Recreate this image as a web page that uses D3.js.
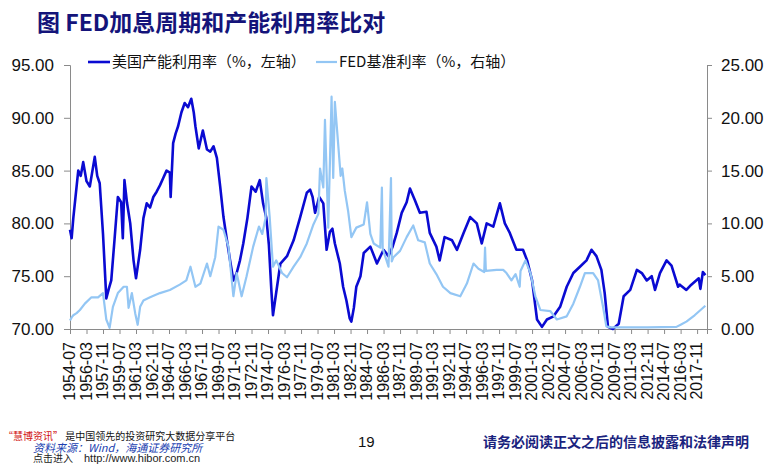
<!DOCTYPE html>
<html><head><meta charset="utf-8">
<script src="https://cdn.jsdelivr.net/npm/d3@7/dist/d3.min.js"></script>
<style>
body{margin:0;background:#fff;}
svg{display:block;}
</style></head>
<body>
<svg id="chart" width="780" height="465"></svg>
<script>
// ---------------- DATA ----------------
const title = "图 FED加息周期和产能利用率比对";
const seriesNames = ["美国产能利用率（%，左轴）", "FED基准利率（%，右轴）"];

const capDates = ["1954-07","1954-09","1954-11","1955-05","1955-08","1955-11","1956-03","1956-07","1957-01","1957-04","1957-07","1957-11","1958-03","1958-06","1958-09","1959-01","1959-05","1959-09","1959-11","1960-01","1960-04","1960-08","1960-12","1961-03","1961-08","1961-12","1962-04","1962-08","1962-12","1963-04","1963-08","1963-12","1964-04","1964-08","1964-09","1964-12","1965-03","1965-06","1965-10","1966-02","1966-06","1966-10","1967-01","1967-03","1967-07","1967-12","1968-05","1968-09","1969-01","1969-05","1969-09","1970-01","1970-05","1970-09","1971-01","1971-05","1971-09","1972-01","1972-06","1972-11","1973-04","1973-09","1974-01","1974-05","1974-08","1974-11","1975-01","1975-05","1975-10","1976-06","1977-02","1977-10","1978-06","1978-10","1979-01","1979-04","1979-09","1980-02","1980-06","1980-10","1981-01","1981-04","1981-10","1982-02","1982-06","1982-10","1982-12","1983-03","1983-06","1983-11","1984-03","1984-11","1985-03","1985-07","1986-03","1986-09","1987-02","1987-07","1988-01","1988-07","1988-11","1989-05","1989-11","1990-07","1990-11","1991-07","1991-11","1992-05","1993-02","1993-08","1994-04","1994-12","1995-08","1996-02","1996-08","1997-04","1997-08","1997-12","1998-06","1998-12","1999-08","2000-04","2000-09","2001-03","2001-09","2002-03","2002-09","2003-05","2004-01","2004-09","2005-05","2006-01","2006-09","2007-03","2007-09","2008-03","2008-07","2008-11","2009-05","2009-12","2010-06","2011-02","2011-10","2012-04","2012-10","2013-04","2013-08","2014-02","2014-10","2015-04","2015-12","2016-02","2016-10","2017-04","2018-01","2018-03","2018-06","2018-09"];
const capValues = [79.4,78.6,80.5,85.0,84.5,85.8,84.0,83.5,86.3,84.5,83.8,79.0,72.9,73.8,74.6,78.5,82.5,82.0,78.6,84.1,82.0,80.0,76.5,74.8,77.5,80.5,81.9,81.5,82.5,83.0,83.6,84.3,85.0,84.8,82.5,87.6,88.5,89.2,90.5,91.4,91.0,91.8,90.5,89.2,87.1,88.8,87.0,86.8,87.3,86.2,83.5,80.6,78.5,76.5,74.6,75.3,76.5,78.1,80.5,83.5,83.0,84.1,81.9,80.5,78.0,73.7,71.3,73.5,76.2,76.9,78.4,80.6,82.9,83.2,82.5,81.0,82.5,81.9,77.5,79.2,79.5,78.1,76.2,74.0,72.7,71.0,70.7,72.0,74.0,75.0,77.2,77.8,77.0,76.2,77.5,76.9,77.8,79.1,81.0,82.0,83.3,82.2,81.0,81.1,79.1,77.8,76.5,78.7,78.4,77.5,79.1,80.6,80.0,78.1,80.0,79.7,80.8,81.9,80.0,79.1,77.5,77.5,76.5,74.6,70.9,70.2,70.9,71.2,72.1,74.0,75.3,75.9,76.5,77.5,76.9,75.6,73.4,70.2,70.0,70.5,73.1,73.7,75.6,75.3,74.6,75.0,73.7,75.3,76.5,76.0,74.0,74.2,73.7,74.2,74.8,73.8,75.4,75.1];

const fedDates = ["1954-07","1954-09","1954-11","1955-03","1955-07","1956-01","1956-09","1957-05","1957-11","1958-03","1958-07","1958-11","1959-05","1959-12","1960-04","1960-06","1960-10","1961-02","1961-05","1961-08","1961-12","1962-08","1963-08","1964-08","1965-08","1966-04","1966-09","1967-03","1967-09","1968-05","1968-09","1969-03","1969-07","1970-01","1970-07","1971-01","1971-05","1971-11","1972-05","1973-01","1973-08","1973-12","1974-04","1974-05","1974-09","1975-01","1975-05","1975-12","1976-06","1977-02","1977-10","1978-06","1979-02","1979-08","1979-10","1980-02","1980-04","1980-08","1980-12","1981-02","1981-04","1981-08","1981-11","1982-01","1982-04","1982-08","1982-12","1983-06","1984-03","1984-07","1984-11","1985-03","1985-11","1986-01","1986-02","1986-09","1986-12","1987-01","1987-03","1987-11","1988-07","1989-03","1989-09","1990-05","1990-11","1991-07","1992-03","1992-12","1993-12","1994-08","1995-04","1995-10","1996-05","1996-06","1996-07","1997-08","1998-04","1998-08","1999-02","1999-07","1999-12","2000-01","2000-07","2001-01","2001-07","2002-01","2003-01","2003-09","2004-09","2005-05","2006-01","2006-07","2007-05","2007-11","2008-05","2008-09","2009-02","2012-11","2015-10","2016-03","2016-10","2017-08","2018-09"];
const fedValues = [0.8,1.1,1.3,1.5,1.8,2.4,3.0,3.0,3.4,0.9,0.1,2.1,3.4,4.0,4.0,2.0,3.4,1.5,0.4,2.1,2.7,3.0,3.4,3.7,4.2,4.6,5.9,4.0,4.3,6.2,5.0,6.8,9.7,9.4,7.8,3.1,5.3,3.1,5.0,7.8,9.7,9.0,10.5,14.3,10.6,5.9,6.5,5.3,4.9,5.9,6.8,8.1,9.9,10.9,15.2,13.4,19.8,9.6,22.0,14.3,21.5,17.5,14.5,15.2,13.1,11.2,8.7,9.6,9.9,12.0,9.0,8.1,7.7,13.4,7.6,5.9,14.3,6.4,6.8,7.4,8.7,9.8,8.4,8.2,6.2,5.2,4.0,3.4,3.1,4.3,6.2,5.7,5.4,7.7,5.5,5.6,5.6,5.3,4.6,5.2,4.0,5.5,6.5,5.3,3.1,1.8,1.7,0.9,1.2,2.4,4.0,5.3,5.3,4.6,2.1,0.25,0.15,0.15,0.2,0.4,0.7,1.3,2.2];

const tickLabels = ["1954-07","1956-03","1957-11","1959-07","1961-03","1962-11","1964-07","1966-03","1967-11","1969-07","1971-03","1972-11","1974-07","1976-03","1977-11","1979-07","1981-03","1982-11","1984-07","1986-03","1987-11","1989-07","1991-03","1992-11","1994-07","1996-03","1997-11","1999-07","2001-03","2002-11","2004-07","2006-03","2007-11","2009-07","2011-03","2012-11","2014-07","2016-03","2017-11"];
const leftTicks = [70,75,80,85,90,95];
const rightTicks = [0,5,10,15,20,25];

// ---------------- DRAW ----------------
const svg = d3.select("#chart");
const L = 70, R = 707, T = 65, B = 329;
const mIdx = s => { const [y,m] = s.split("-").map(Number); return (y-1954)*12 + (m-7); };

const x = d3.scaleLinear().domain([0, 772]).range([L, R]);
const yL = d3.scaleLinear().domain([70, 95]).range([B, T]);
const yR = d3.scaleLinear().domain([0, 25]).range([B, T]);

const axisColor = "#8a8a8a";
const fontNum = "'Liberation Sans', Arial, sans-serif";
const fontCJK = "'Noto Sans CJK SC', 'Liberation Sans', sans-serif";

// Title
svg.append("text").attr("x", 37).attr("y", 31)
  .attr("font-family", fontCJK).attr("font-weight", "bold")
  .attr("font-size", 23).attr("fill", "#14147a").text(title);

// Left axis
const gL = svg.append("g").attr("transform", `translate(${L},0)`)
  .call(d3.axisLeft(yL).tickValues(leftTicks).tickFormat(d3.format(".2f")).tickSize(6).tickPadding(10));
// Right axis
const gR = svg.append("g").attr("transform", `translate(${R},0)`)
  .call(d3.axisRight(yR).tickValues(rightTicks).tickFormat(d3.format(".2f")).tickSize(5).tickPadding(9));
// Bottom axis
const gB = svg.append("g").attr("transform", `translate(0,${B})`)
  .call(d3.axisBottom(x).tickValues(tickLabels.map(mIdx)).tickFormat((d,i)=>tickLabels[i]).tickSize(5).tickPadding(4));

[gL,gR,gB].forEach(g=>{
  g.select(".domain").attr("stroke", axisColor).attr("stroke-width",1);
  g.selectAll(".tick line").attr("stroke", axisColor);
  g.selectAll("text").attr("font-family", fontNum).attr("fill", "#111");
});
gL.selectAll("text").attr("font-size", 17);
gR.selectAll("text").attr("font-size", 17);
gB.selectAll("text").attr("font-size", 16)
  .attr("text-anchor", "end")
  .attr("transform", "rotate(-90)")
  .attr("x", -13).attr("y", 0).attr("dy", "0.3em");

// Lines
const capData = capDates.map((d,i)=>({m: mIdx(d), v: capValues[i]}));
const fedData = fedDates.map((d,i)=>({m: mIdx(d), v: fedValues[i]}));

svg.append("path").datum(capData)
  .attr("fill","none").attr("stroke","#0a0ad2").attr("stroke-width",2.6).attr("stroke-linejoin","round")
  .attr("d", d3.line().x(d=>x(d.m)).y(d=>yL(d.v)));
svg.append("path").datum(fedData)
  .attr("fill","none").attr("stroke","#93c6f4").attr("stroke-width",2.2).attr("stroke-linejoin","round")
  .attr("d", d3.line().x(d=>x(d.m)).y(d=>yR(d.v)));

// Legend
const lg = svg.append("g");
lg.append("line").attr("x1",88).attr("x2",110).attr("y1",62).attr("y2",62).attr("stroke","#0a0ad2").attr("stroke-width",2.6);
lg.append("text").attr("x",112).attr("y",67).attr("font-family",fontCJK).attr("font-size",15).attr("fill","#111").text(seriesNames[0]);
lg.append("line").attr("x1",316).attr("x2",337).attr("y1",62).attr("y2",62).attr("stroke","#93c6f4").attr("stroke-width",2.2);
lg.append("text").attr("x",339).attr("y",67).attr("font-family",fontCJK).attr("font-size",15).attr("fill","#111").text(seriesNames[1]);

// Footer
const f1 = svg.append("text").attr("x",3).attr("y",440).attr("font-family",fontCJK).attr("font-size",10).attr("fill","#111");
f1.append("tspan").attr("fill","#d01010").text("“慧博资讯”");
f1.append("tspan").text(" 是中国领先的投资研究大数据分享平台");
svg.append("text").attr("x",33).attr("y",451.5).attr("font-family",fontCJK).attr("font-size",11).attr("font-style","italic").attr("fill","#2040b0").text("资料来源：Wind，海通证券研究所");
svg.append("text").attr("x",33).attr("y",462).attr("font-family",fontCJK).attr("font-size",10).attr("fill","#222").text("点击进入");
svg.append("text").attr("x",84).attr("y",462).attr("font-family",fontNum).attr("font-size",11).attr("fill","#222").text("http://www.hibor.com.cn");
svg.append("text").attr("x",358).attr("y",447).attr("font-family",fontNum).attr("font-size",15).attr("fill","#111").text("19");
svg.append("text").attr("x",483).attr("y",447).attr("font-family",fontCJK).attr("font-weight","bold").attr("font-size",14).attr("fill","#1a237e").text("请务必阅读正文之后的信息披露和法律声明");
</script>
</body></html>
